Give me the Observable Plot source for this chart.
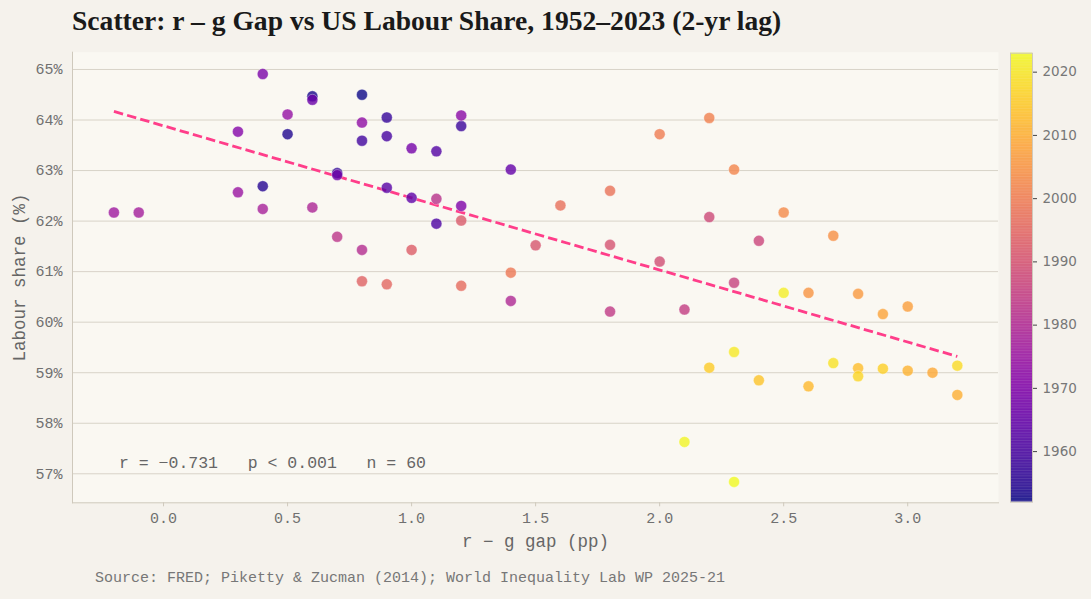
<!DOCTYPE html>
<html>
<head>
<meta charset="utf-8">
<script src="https://cdn.jsdelivr.net/npm/d3@7"></script>
<script src="https://cdn.jsdelivr.net/npm/@observablehq/plot@0.6"></script>
<style>
  html, body { margin: 0; padding: 0; background: #f5f2ec; }
  #wrap { position: relative; width: 1091px; height: 599px; overflow: hidden; }
  #title { position: absolute; left: 72px; top: 4px; font-family: Georgia, "Liberation Serif", serif; font-weight: bold; font-size: 27.6px; line-height: 34px; color: #1a1a1a; white-space: nowrap; }
  #main { position: absolute; left: 0; top: 50px; }
  #bar { position: absolute; left: 1000px; top: 50px; }
  #source { position: absolute; left: 95px; top: 570px; font-family: "Liberation Mono", monospace; font-size: 15px; color: #777; white-space: nowrap; }
</style>
</head>
<body>
<div id="wrap">
  <div id="title">Scatter: r – g Gap vs US Labour Share, 1952–2023 (2-yr lag)</div>
  <div id="main"></div>
  <div id="bar"></div>
  <div id="source">Source: FRED; Piketty &amp; Zucman (2014); World Inequality Lab WP 2025-21</div>
</div>
<script>
// ---- data ----
const years = [1952,1953,1954,1955,1956,1957,1958,1959,1960,1961,
  1962,1963,1964,1965,1966,1967,1968,1969,1970,1971,
  1972,1973,1974,1975,1976,1977,1978,1979,1980,1981,
  1982,1983,1984,1985,1986,1987,1988,1989,1990,1991,
  1992,1993,1994,1995,1996,1997,1998,1999,2000,2001,
  2002,2003,2004,2005,2006,2007,2008,2009,2010,2011,
  2012,2013,2014,2015,2016,2017,2018,2019,2020,2021,
  2022,2023];
const gapPP = [0.8,0.6,0.5,0.4,0.7,0.9,1.2,0.8,0.9,1.1,
  1.1,0.9,1.0,1.4,0.6,0.7,1.0,0.4,1.2,0.3,
  1.2,0.8,0.5,0.3,-0.2,-0.1,0.4,0.6,1.4,0.8,
  1.1,0.7,1.8,2.1,2.3,2.4,2.2,2.0,1.8,1.5,
  1.2,1.0,0.8,0.9,1.2,1.6,1.8,1.4,2.0,2.2,
  2.3,2.5,2.7,2.6,2.8,3.0,2.9,3.1,3.2,3.0,
  2.6,2.8,2.4,2.2,2.9,2.8,3.2,2.7,2.3,2.5,
  2.1,2.3];
const labourShare = [64.50,64.47,63.72,62.69,62.95,64.05,63.88,63.59,63.68,61.95,
  63.38,62.66,62.46,63.02,64.40,62.91,63.44,64.91,62.30,63.77,
  64.09,63.95,64.11,62.57,62.17,62.17,62.24,62.27,60.42,61.43,
  62.44,61.69,60.21,60.25,60.78,61.61,62.08,61.20,61.53,61.52,
  62.01,61.43,60.81,60.75,60.72,62.31,62.60,60.98,63.72,64.04,
  63.02,62.17,61.71,60.58,60.56,60.31,60.16,59.00,58.56,59.04,
  58.73,59.09,58.85,59.10,59.08,58.93,59.14,59.19,59.41,60.58,
  57.63,56.84];
const fitIntercept = 63.885;
const fitSlope = -1.426;
const statsLabel = "r = \u22120.731   p < 0.001   n = 60";
const xTicks = [0, 0.5, 1.0, 1.5, 2.0, 2.5, 3.0];
const yTicks = [57, 58, 59, 60, 61, 62, 63, 64, 65];
const barTicks = [1960, 1970, 1980, 1990, 2000, 2010, 2020];

// ---- derived tables ----
const points = years.map((yr, i) => ({year: yr, gap: gapPP[i], share: labourShare[i]}));
const fitLine = d3.extent(gapPP).map(g => ({gap: g, share: fitIntercept + fitSlope * g}));
const yearDomain = d3.extent(years);
const colorOpts = {type: "linear", scheme: "plasma", domain: yearDomain};

const mono = "'Liberation Mono', 'Courier New', monospace";

const main = Plot.plot({
  width: 1000,
  height: 510,
  marginLeft: 72,
  marginRight: 2,
  marginTop: 1.7,
  marginBottom: 57.7,
  style: {background: "transparent", fontFamily: mono, fontSize: "15px", color: "#707070"},
  x: {domain: [-0.367, 3.366]},
  y: {domain: [56.426, 65.342]},
  color: colorOpts,
  marks: [
    Plot.frame({fill: "#faf8f2", stroke: null}),
    Plot.gridY(yTicks, {stroke: "#d8d3c8", strokeOpacity: 1, strokeWidth: 1}),
    Plot.frame({anchor: "left", stroke: "#cfc9bc", strokeWidth: 1}),
    Plot.frame({anchor: "bottom", stroke: "#cfc9bc", strokeWidth: 1}),
    Plot.axisY(yTicks, {tickSize: 0, tickPadding: 10, tickFormat: d => d + "%", label: null}),
    Plot.axisY(yTicks, {tickSize: 0, tickFormat: () => "", fontSize: 17.5, fill: "#666",
      label: "Labour share (%)", labelAnchor: "center", labelArrow: "none", labelOffset: 60}),
    Plot.axisX(xTicks, {tickSize: 4, tickPadding: 6, stroke: "#cfc9bc", tickFormat: d3.format(".1f"), label: null}),
    Plot.axisX(xTicks, {tickSize: 0, tickFormat: () => "", fontSize: 17.5, fill: "#666",
      label: "r \u2212 g gap (pp)", labelAnchor: "center", labelArrow: "none", labelOffset: 44}),
    Plot.line(fitLine, {x: "gap", y: "share", stroke: "#ff3e8a", strokeWidth: 2.8, strokeDasharray: "9.5,4.2", strokeLinecap: "butt"}),
    Plot.dot(points, {x: "gap", y: "share", fill: "year", r: 5.5, fillOpacity: 0.8, stroke: "#ffffff", strokeWidth: 0.5, strokeOpacity: 0.7}),
    Plot.text([statsLabel], {frameAnchor: "bottom-left", dx: 46.5, dy: -40, lineAnchor: "middle", textAnchor: "start",
      fontSize: 16.5, fill: "#666", fontFamily: mono})
  ]
});
document.getElementById("main").appendChild(main);

// ---- colour bar ----
const barSteps = d3.range(yearDomain[0], yearDomain[1], 0.25);
const bar = Plot.plot({
  width: 91,
  height: 510,
  marginLeft: 10,
  marginRight: 59,
  marginTop: 2.7,
  marginBottom: 58.3,
  style: {background: "transparent", fontFamily: "'DejaVu Sans', sans-serif", fontSize: "13.5px", color: "#777"},
  x: {domain: [0, 1], axis: null},
  y: {domain: yearDomain},
  color: colorOpts,
  marks: [
    Plot.rect(barSteps, {x1: () => 0, x2: () => 1, y1: d => d, y2: d => Math.min(d + 0.35, yearDomain[1]), fill: d => d, fillOpacity: 0.78}),
    Plot.frame({stroke: "#cfc9bc", strokeWidth: 1}),
    Plot.axisY(barTicks, {anchor: "right", tickSize: 4, tickPadding: 6, stroke: "#444", tickFormat: d => String(d), label: null})
  ]
});
document.getElementById("bar").appendChild(bar);
</script>
</body>
</html>
